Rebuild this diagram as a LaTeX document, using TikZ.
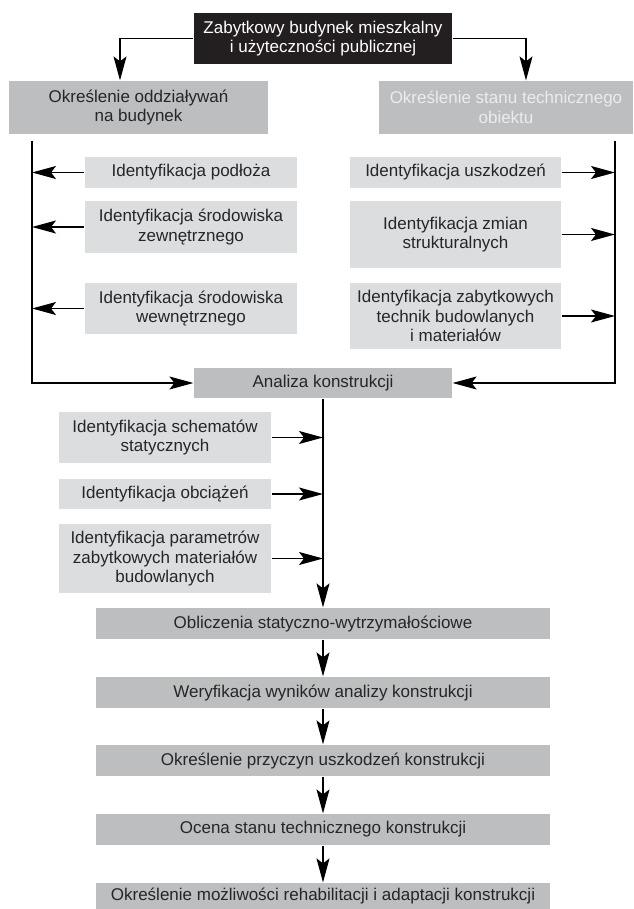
\documentclass[tikz,border=0pt]{standalone}
\usepackage{fontspec}
\setmainfont{Liberation Sans}
\usepackage{xcolor}
\usetikzlibrary{arrows.meta}

\definecolor{boxdark}{HTML}{231F20}
\definecolor{boxmid}{HTML}{BCBEC0}
\definecolor{boxlight}{HTML}{DCDDDF}
\definecolor{textpale}{HTML}{ECECEC}

\tikzset{
  sz/.style 2 args={minimum width=#1pt, minimum height=#2pt},
  basebox/.style={inner sep=0pt, align=center, font=\fontsize{17}{19.5}\selectfont},
  darkbox/.style={basebox, fill=boxdark, text=white},
  midbox/.style={basebox, fill=boxmid, text=black!85},
  lightbox/.style={basebox, fill=boxlight, text=black!85}
}

\begin{document}
\begin{tikzpicture}[x=1pt,y=-1pt,>={Stealth[length=24pt,width=13pt,inset=5pt]},line width=1.2pt]

    \useasboundingbox (0,0) rectangle (633,909);

    % Top level
    \node[darkbox, sz={258}{51}] (budynek) at (323,38.5) {Zabytkowy budynek mieszkalny\\i użyteczności publicznej};
    \node[midbox, sz={259}{53}] (oddz) at (138.5,107.5) {Określenie oddziaływań\\na budynek};
    \node[midbox, sz={254}{53}, text=textpale] (stan) at (506,107.5) {Określenie stanu technicznego\\obiektu};

    \draw[->] (budynek.west) -| ([xshift=-18.5pt]oddz.north);
    \draw[->] (budynek.east) -| ([xshift=20pt]stan.north);

    % Left column (influences)
    \node[lightbox, sz={212}{31}] (podloze) at (191,172.5) {Identyfikacja podłoża};
    \node[lightbox, sz={212}{52}] (zewn)    at (191,227)   {Identyfikacja środowiska\\zewnętrznego};
    \node[lightbox, sz={212}{51}] (wewn)    at (191,308.5) {Identyfikacja środowiska\\wewnętrznego};

    % Right column (technical state)
    \node[lightbox, sz={211}{31}] (uszk)  at (455.5,172.5) {Identyfikacja uszkodzeń};
    \node[lightbox, sz={211}{67}] (zmian) at (455.5,234.5) {Identyfikacja zmian\\strukturalnych};
    \node[lightbox, sz={211}{66}] (techn) at (455.5,316)   {Identyfikacja zabytkowych\\technik budowlanych\\i materiałów};

    % Structural analysis
    \node[midbox, sz={258}{30}] (analiza) at (323,383) {Analiza konstrukcji};

    \coordinate (Ltop) at (32,141);
    \coordinate (Rtop) at (615,141);
    \draw[->] (Ltop) |- (analiza.west);
    \draw[->] (Rtop) |- (analiza.east);

    \foreach \n in {podloze,zewn,wewn}
      \draw[->] (\n.west) -- (\n.west -| Ltop);
    \foreach \n in {uszk,zmian,techn}
      \draw[->] (\n.east) -- (\n.east -| Rtop);

    % Inputs of the analysis
    \node[lightbox, sz={212}{51}] (schem) at (165,437.5) {Identyfikacja schematów\\statycznych};
    \node[lightbox, sz={212}{30}] (obc)   at (165,494)   {Identyfikacja obciążeń};
    \node[lightbox, sz={212}{69}] (param) at (165,558.5) {Identyfikacja parametrów\\zabytkowych materiałów\\budowlanych};

    % Final chain
    \node[midbox, sz={454}{31}] (oblicz) at (323,623.5) {Obliczenia statyczno-wytrzymałościowe};
    \node[midbox, sz={454}{31}] (weryf)  at (323,692.5) {Weryfikacja wyników analizy konstrukcji};
    \node[midbox, sz={454}{31}] (przycz) at (323,760.5) {Określenie przyczyn uszkodzeń konstrukcji};
    \node[midbox, sz={454}{31}] (ocena)  at (323,829.5) {Ocena stanu technicznego konstrukcji};
    \node[midbox, sz={454}{26}] (mozl)   at (323,896)   {Określenie możliwości rehabilitacji i adaptacji konstrukcji};

    \draw[->] (analiza.south) -- (oblicz.north);
    \foreach \n in {schem,obc,param}
      \draw[->] (\n.east) -- (\n.east -| analiza.south);

    \draw[->] (oblicz) -- (weryf);
    \draw[->] (weryf) -- (przycz);
    \draw[->] (przycz) -- (ocena);
    \draw[->] (ocena) -- (mozl);

\end{tikzpicture}
\end{document}
